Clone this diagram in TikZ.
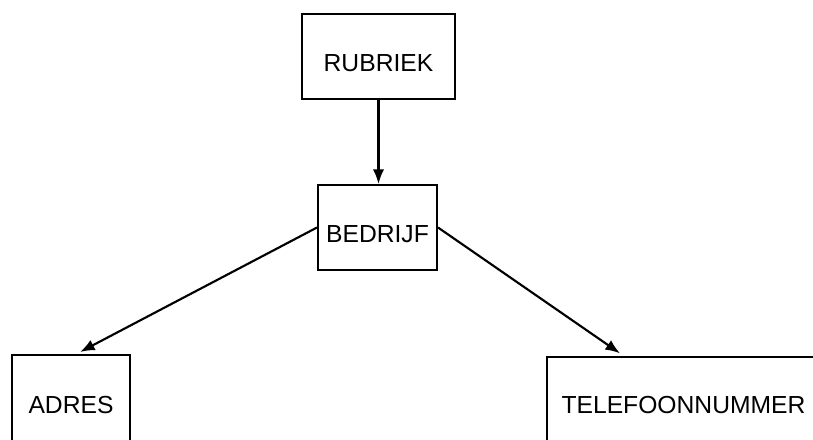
\documentclass[tikz,border=0pt]{standalone}
\usepackage{fontspec}
\setmainfont{Liberation Sans}
\usetikzlibrary{arrows.meta}
\begin{document}
\begin{tikzpicture}[x=0.75pt,y=-0.75pt,
  box/.style={draw,line width=1.5pt,inner sep=0pt,font=\fontsize{18.5}{20}\selectfont,
    text height=22pt,text depth=0pt},
  conn/.style={line width=1.6pt,-{Latex[length=11pt,width=8.5pt]}}]
\useasboundingbox (0,0) rectangle (813,439);
\clip (0,0) rectangle (813,439);
\node[box,minimum width=114.75pt,minimum height=63.75pt] (rub) at (378.5,56.5) {RUBRIEK};
\node[box,minimum width=89.25pt,minimum height=63.75pt] (bed) at (377.5,227.5) {BEDRIJF};
\node[box,minimum width=88.5pt,minimum height=66pt] (adr) at (71,399) {ADRES};
\node[box,minimum width=204.75pt,minimum height=63pt] (tel) at (683.5,399) {TELEFOONNUMMER};
\coordinate (adrtip) at ([xshift=6.75pt,yshift=1.5pt]adr.north);
\coordinate (teltip) at ([xshift=-47.6pt,yshift=2pt]tel.north);
\draw[conn] (rub.south) -- (rub.south |- bed.north);
\draw[conn] (bed.west) -- (adrtip);
\draw[conn] (bed.east) -- (teltip);
\end{tikzpicture}
\end{document}
